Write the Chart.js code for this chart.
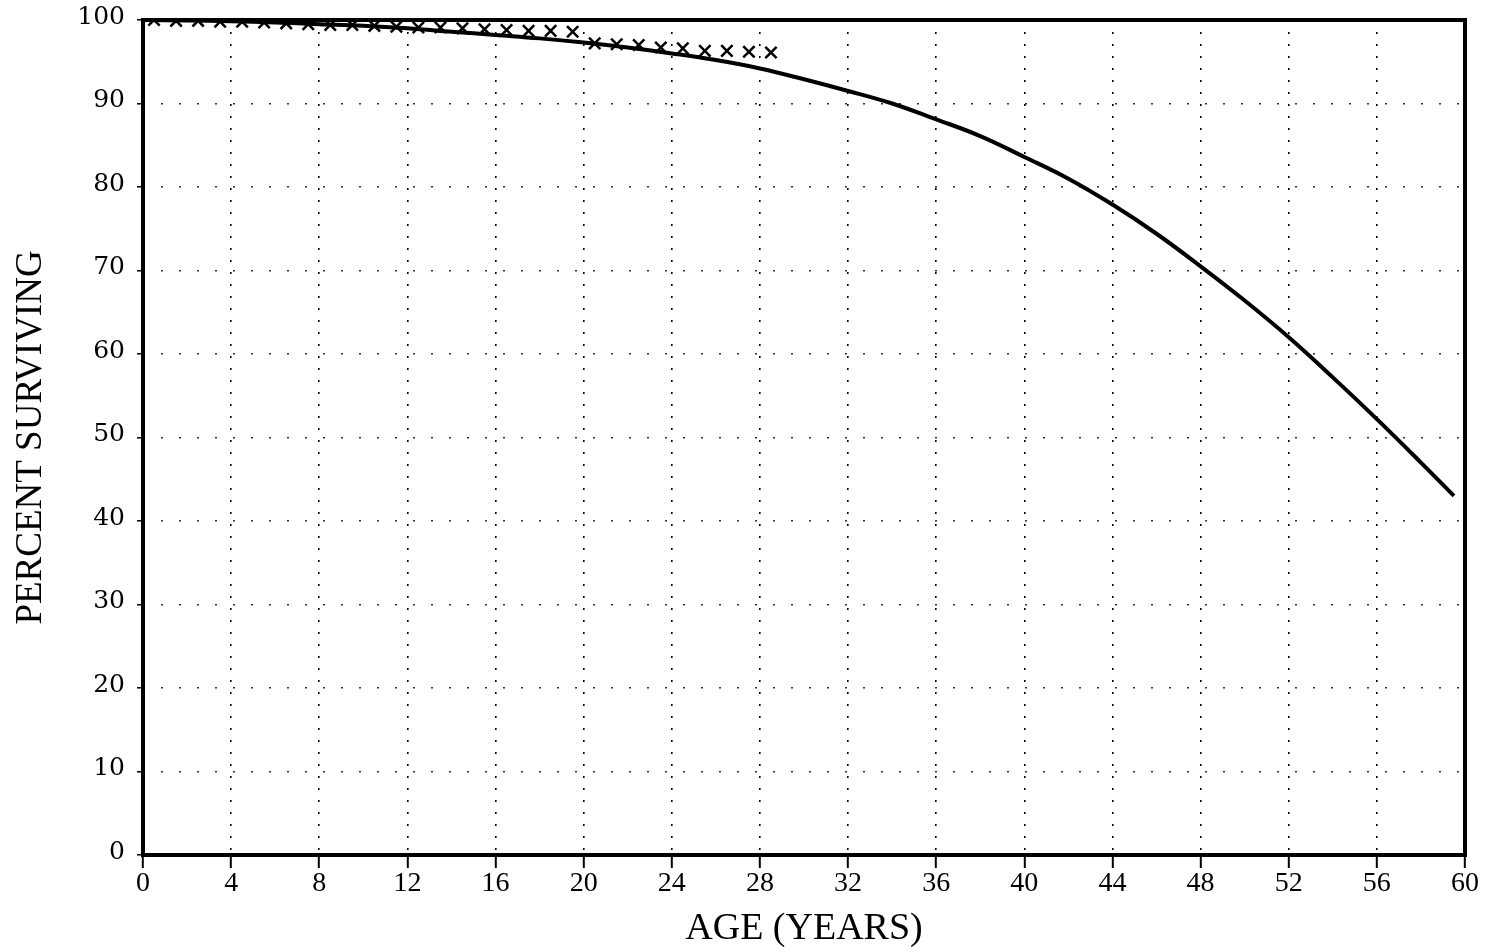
<!DOCTYPE html>
<html>
<head>
<meta charset="utf-8">
<script src="https://cdn.jsdelivr.net/npm/chart.js@4"></script>
<style>
  html, body { margin: 0; padding: 0; background: #fff; }
  canvas { display: block; }
</style>
</head>
<body>
<canvas id="c" width="1490" height="952" style="width:1490px;height:952px"></canvas>
<script>
// ---- data ----
const curveAge = [0, 2, 4, 6, 8, 10, 12, 14, 16, 18, 20, 22, 24, 26, 28, 30, 32, 34, 36, 38, 40, 42, 44, 46, 48, 50, 52, 54, 56, 58, 59.5];
const curveSurvival = [100, 99.95, 99.85, 99.7, 99.5, 99.3, 99.0, 98.6, 98.2, 97.8, 97.3, 96.7, 96.0, 95.2, 94.2, 92.9, 91.5, 90.0, 88.1, 86.1, 83.6, 81.0, 77.9, 74.4, 70.5, 66.4, 62.0, 57.2, 52.2, 47.0, 43.0];
const observedAge = [0.5, 1.5, 2.5, 3.5, 4.5, 5.5, 6.5, 7.5, 8.5, 9.5, 10.5, 11.5, 12.5, 13.5, 14.5, 15.5, 16.5, 17.5, 18.5, 19.5, 20.5, 21.5, 22.5, 23.5, 24.5, 25.5, 26.5, 27.5, 28.5];
const observedSurvival = [100, 99.9, 99.9, 99.8, 99.8, 99.7, 99.6, 99.5, 99.4, 99.4, 99.3, 99.2, 99.1, 99.1, 99.0, 98.9, 98.8, 98.7, 98.7, 98.6, 97.2, 97.1, 97.0, 96.7, 96.6, 96.3, 96.3, 96.2, 96.1];
const xTickValues = [0, 4, 8, 12, 16, 20, 24, 28, 32, 36, 40, 44, 48, 52, 56, 60];
const yTickValues = [0, 10, 20, 30, 40, 50, 60, 70, 80, 90, 100];
const xTitle = 'AGE (YEARS)';
const yTitle = 'PERCENT SURVIVING';

const curvePoints = curveAge.map((a, i) => ({ x: a, y: curveSurvival[i] }));
const observedPoints = observedAge.map((a, i) => ({ x: a, y: observedSurvival[i] }));

const framePlugin = {
  id: 'frame',
  afterDatasetsDraw(chart) {
    const { ctx, chartArea: a } = chart;
    ctx.save();
    ctx.strokeStyle = '#000';
    ctx.lineWidth = 4;
    ctx.strokeRect(a.left, a.top, a.right - a.left, a.bottom - a.top);
    ctx.restore();
  }
};

const serif = '"Liberation Serif", "DejaVu Serif", serif';
const wideSerif = '"DejaVu Serif", "Liberation Serif", serif';

new Chart(document.getElementById('c'), {
  type: 'scatter',
  data: {
    datasets: [
      {
        label: 'fitted',
        data: curvePoints,
        showLine: true,
        borderColor: '#000',
        borderWidth: 4,
        pointRadius: 0,
        tension: 0.4,
        order: 2
      },
      {
        label: 'observed',
        data: observedPoints,
        showLine: false,
        pointStyle: 'crossRot',
        pointRadius: 8,
        pointBorderWidth: 2.5,
        borderColor: '#000',
        backgroundColor: '#000',
        order: 1
      }
    ]
  },
  options: {
    responsive: false,
    animation: false,
    devicePixelRatio: 1,
    layout: { padding: { left: 0, right: 25, top: 20, bottom: 0 } },
    plugins: { legend: { display: false }, tooltip: { enabled: false } },
    scales: {
      x: {
        type: 'linear',
        min: 0, max: 60,
        afterBuildTicks(axis) { axis.ticks = xTickValues.map(v => ({ value: v })); },
        afterFit(axis) { axis.height = 97; axis.paddingLeft = 0; axis.paddingRight = 0; },
        grid: {
          color: '#000',
          lineWidth: 1.6,
          tickLength: 13,
          tickColor: '#000',
          tickWidth: 2,
          tickBorderDash: []
        },
        border: { display: false, dash: [2, 10] },
        ticks: {
          color: '#000',
          padding: -1,
          font: { family: serif, size: 28 },
          maxRotation: 0,
          callback: v => String(v)
        },
        title: {
          display: true,
          text: xTitle,
          color: '#000',
          font: { family: serif, size: 38 },
          padding: { top: 0, bottom: 0 }
        }
      },
      y: {
        type: 'linear',
        min: 0, max: 100,
        afterBuildTicks(axis) { axis.ticks = yTickValues.map(v => ({ value: v })); },
        afterFit(axis) { axis.width = 143; axis.paddingTop = 0; axis.paddingBottom = 0; },
        grid: {
          color: '#333',
          lineWidth: 1.6,
          tickLength: 6,
          tickColor: '#000',
          tickWidth: 1.5,
          tickBorderDash: []
        },
        border: { display: false, dash: [2, 16] },
        ticks: {
          color: '#000',
          padding: 12,
          labelOffset: -3,
          font: { family: wideSerif, size: 25 },
          callback: v => String(v)
        },
        title: {
          display: true,
          text: yTitle,
          color: '#000',
          font: { family: serif, size: 37 },
          padding: { top: 9, bottom: 0 }
        }
      }
    }
  },
  plugins: [framePlugin]
});
</script>
</body>
</html>
